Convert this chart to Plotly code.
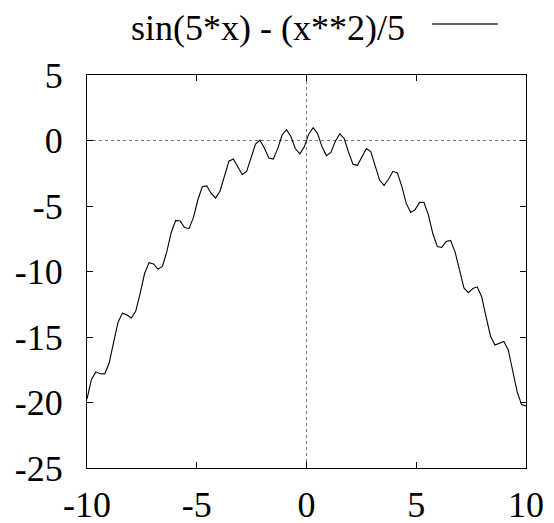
import plotly.graph_objects as go

# Sample positions (100 samples from -10 to 10)
x_vals = [
    -10.0, -9.798, -9.596, -9.394, -9.192, -8.990, -8.788, -8.586, -8.384, -8.182,
    -7.980, -7.778, -7.576, -7.374, -7.172, -6.970, -6.768, -6.566, -6.364, -6.162,
    -5.960, -5.758, -5.556, -5.354, -5.152, -4.949, -4.747, -4.545, -4.343, -4.141,
    -3.939, -3.737, -3.535, -3.333, -3.131, -2.929, -2.727, -2.525, -2.323, -2.121,
    -1.919, -1.717, -1.515, -1.313, -1.111, -0.909, -0.707, -0.505, -0.303, -0.101,
    0.101, 0.303, 0.505, 0.707, 0.909, 1.111, 1.313, 1.515, 1.717, 1.919,
    2.121, 2.323, 2.525, 2.727, 2.929, 3.131, 3.333, 3.535, 3.737, 3.939,
    4.141, 4.343, 4.545, 4.747, 4.949, 5.152, 5.354, 5.556, 5.758, 5.960,
    6.162, 6.364, 6.566, 6.768, 6.970, 7.172, 7.374, 7.576, 7.778, 7.980,
    8.182, 8.384, 8.586, 8.788, 8.990, 9.192, 9.394, 9.596, 9.798, 10.0,
]

y_vals = [
    -19.738, -18.243, -17.661, -17.803, -17.817, -16.987, -15.402, -13.874, -13.177, -13.320,
    -13.544, -13.027, -11.657, -10.136, -9.323, -9.428, -9.819, -9.609, -8.491, -7.022,
    -6.104, -6.139, -6.649, -6.730, -5.893, -4.524, -3.523, -3.461, -4.044, -4.389,
    -3.853, -2.632, -1.578, -1.404, -2.012, -2.589, -2.365, -1.335, -0.266, 0.025,
    -0.566, -1.334, -1.421, -0.624, 0.418, 0.821, 0.284, -0.629, -1.017, -0.486,
    0.482, 0.980, 0.527, -0.484, -1.151, -0.912, -0.066, 0.502, 0.154, -0.907,
    -1.825, -1.893, -1.216, -0.610, -0.843, -1.910, -3.041, -3.422, -2.956, -2.354,
    -2.471, -3.503, -4.804, -5.492, -5.275, -4.723, -4.734, -5.696, -7.121, -8.102,
    -8.164, -7.708, -7.634, -8.502, -10.002, -11.251, -11.613, -11.300, -11.170, -11.927,
    -13.457, -14.939, -15.612, -15.488, -15.340, -15.980, -17.496, -19.172, -20.157, -20.262,
]

series_name = "sin(5*x) - (x**2)/5"
x_ticks = [-10, -5, 0, 5, 10]
y_ticks = [-25, -20, -15, -10, -5, 0, 5]

FONT = "Liberation Serif"

fig = go.Figure()
fig.add_trace(go.Scatter(
    x=x_vals, y=y_vals, mode="lines", name=series_name,
    line=dict(color="black", width=1.1), showlegend=False,
))

axis_common = dict(
    showline=True, linecolor="black", linewidth=1, mirror="ticks",
    ticks="inside", ticklen=6, tickwidth=1, tickcolor="black",
    showgrid=False, zeroline=False, automargin=False,
    tickfont=dict(family=FONT, size=36, color="black"),
)

fig.update_xaxes(range=[-10, 10], tickvals=x_ticks, ticktext=[str(v) for v in x_ticks],
                 ticklabelstandoff=5, **axis_common)
fig.update_yaxes(range=[-25, 5], tickvals=y_ticks, ticktext=[str(v) for v in y_ticks],
                 ticklabelstandoff=16, **axis_common)

# dotted zero axes
fig.add_shape(type="line", xref="x", yref="paper", x0=0, x1=0, y0=0, y1=1,
              line=dict(color="#777", width=1, dash="dot"), layer="below")
fig.add_shape(type="line", xref="paper", yref="y", x0=0, x1=1, y0=0, y1=0,
              line=dict(color="#777", width=1, dash="dot"), layer="below")

# key (text + line sample) above the plot, gnuplot style
fig.add_annotation(xref="paper", yref="paper", x=0.729, y=1.12,
                   xanchor="right", yanchor="middle", showarrow=False,
                   text=series_name, font=dict(family=FONT, size=36, color="black"))
fig.add_shape(type="line", xref="paper", yref="paper", x0=0.786, x1=0.936,
              y0=1.13, y1=1.13, line=dict(color="#333", width=1.5))

# the page adds an 8px body margin, so the figure is sized to fit the window
fig.update_layout(
    width=546, height=515,
    margin=dict(l=79, r=28, t=67, b=55, autoexpand=False),
    paper_bgcolor="white", plot_bgcolor="white",
    font=dict(family=FONT, color="black"),
)

fig.write_html("out.html")
